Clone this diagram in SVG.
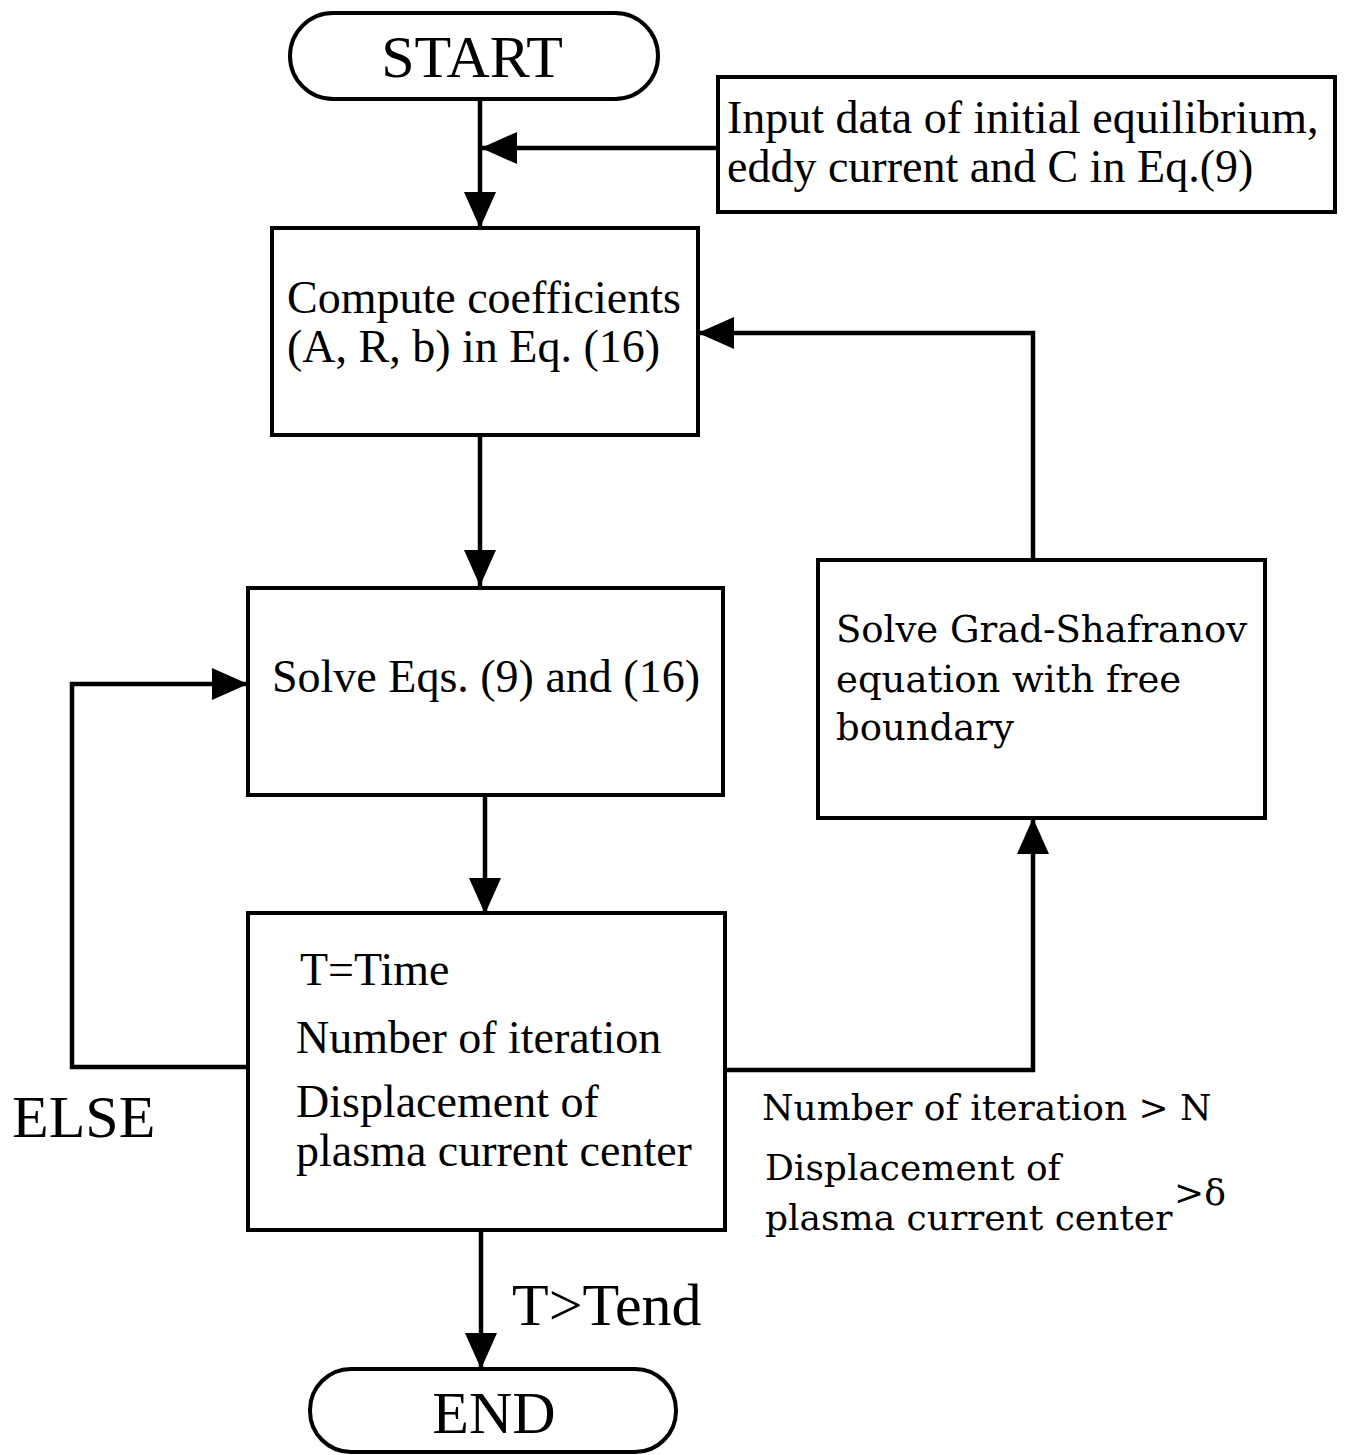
<svg xmlns="http://www.w3.org/2000/svg" width="1347" height="1455" viewBox="0 0 1347 1455">
  <style>
    .box { fill: #ffffff; stroke: #000000; stroke-width: 4; }
    .line { fill: none; stroke: #000000; stroke-width: 4.5; }
    .t { font-family: "Liberation Serif", "Times New Roman", serif; font-size: 46px; fill: #000000; }
    .big { font-family: "Liberation Serif", "Times New Roman", serif; font-size: 60px; fill: #000000; }
    .w { font-family: "DejaVu Serif", "Liberation Serif", serif; font-size: 37px; fill: #000000; }
    .ws { font-family: "DejaVu Serif", "Liberation Serif", serif; font-size: 36px; fill: #000000; }
  </style>
  <defs>
    <marker id="arrow" markerUnits="userSpaceOnUse" markerWidth="36" markerHeight="32" refX="36" refY="16" orient="auto">
      <path d="M0,0 L36,16 L0,32 Z" fill="#000000"/>
    </marker>
  </defs>
  <rect width="1347" height="1455" fill="#ffffff"/>

  <g id="connectors">
    <!-- start to compute -->
    <line class="line" x1="480" y1="99" x2="480" y2="228" marker-end="url(#arrow)"/>
    <!-- input data joins main flow -->
    <line class="line" x1="718" y1="148" x2="481" y2="148" marker-end="url(#arrow)"/>
    <!-- compute to solve -->
    <line class="line" x1="480" y1="435" x2="480" y2="586" marker-end="url(#arrow)"/>
    <!-- solve to check -->
    <line class="line" x1="485" y1="795" x2="485" y2="914" marker-end="url(#arrow)"/>
    <!-- ELSE loop back -->
    <polyline class="line" points="248,1067 72,1067 72,684 248,684" marker-end="url(#arrow)"/>
    <!-- iteration limit branch -->
    <polyline class="line" points="725,1070 1033,1070 1033,818" marker-end="url(#arrow)"/>
    <!-- Grad-Shafranov back to compute -->
    <polyline class="line" points="1033,560 1033,333 698,333" marker-end="url(#arrow)"/>
    <!-- check to end -->
    <line class="line" x1="481" y1="1230" x2="481" y2="1369" marker-end="url(#arrow)"/>
  </g>

  <g id="start">
    <rect class="box" x="290" y="13" width="368" height="86" rx="43" ry="43"/>
    <text class="big" x="472" y="77" text-anchor="middle">START</text>
  </g>

  <g id="input">
    <rect class="box" x="718" y="77" width="617" height="135"/>
    <text class="t" x="727" y="133">Input data of initial equilibrium,</text>
    <text class="t" x="727" y="182">eddy current and C in Eq.(9)</text>
  </g>

  <g id="compute">
    <rect class="box" x="272" y="228" width="426" height="207"/>
    <text class="t" x="287" y="313">Compute coefficients</text>
    <text class="t" x="287" y="362">(A, R, b) in Eq. (16)</text>
  </g>

  <g id="solve">
    <rect class="box" x="248" y="588" width="475" height="207"/>
    <text class="t" x="272" y="692">Solve Eqs. (9) and (16)</text>
  </g>

  <g id="check">
    <rect class="box" x="248" y="913" width="477" height="317"/>
    <text class="t" x="300" y="985">T=Time</text>
    <text class="t" x="296" y="1053">Number of iteration</text>
    <text class="t" x="296" y="1117">Displacement of</text>
    <text class="t" x="296" y="1166">plasma current center</text>
  </g>

  <g id="gradshafranov">
    <rect class="box" x="818" y="560" width="447" height="258"/>
    <text class="w" x="836" y="642">Solve Grad-Shafranov</text>
    <text class="w" x="836" y="692">equation with free</text>
    <text class="w" x="836" y="740">boundary</text>
  </g>

  <g id="labels">
    <text class="big" x="12" y="1137">ELSE</text>
    <text class="big" x="512" y="1325">T&gt;Tend</text>
    <text class="ws" x="762" y="1120">Number of iteration &gt; N</text>
    <text class="ws" x="765" y="1180">Displacement of</text>
    <text class="ws" x="765" y="1230">plasma current center</text>
    <text class="ws" x="1174" y="1205">&gt;δ</text>
  </g>

  <g id="end">
    <rect class="box" x="310" y="1369" width="366" height="83" rx="41" ry="41"/>
    <text class="big" x="494" y="1433" text-anchor="middle">END</text>
  </g>
</svg>
